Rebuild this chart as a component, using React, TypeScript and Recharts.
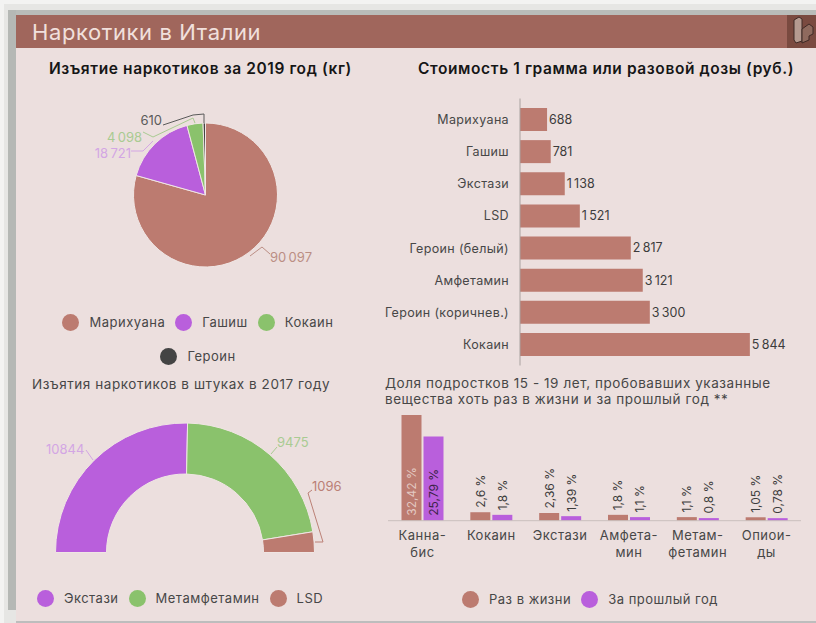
import React from 'react';
import { PieChart, Pie, Cell, BarChart, Bar, XAxis, YAxis, Legend, LabelList } from 'recharts';

const FONT = 'Inter, "Open Sans", sans-serif';
const BROWN = '#bc7b70';
const PURPLE = '#b95fdc';
const GREEN = '#8ac26c';
const DARK = '#444444';
const TEXT = '#474747';

const seizureNames = ['Марихуана', 'Гашиш', 'Кокаин', 'Героин'];
const seizureValues = [90097, 18721, 4098, 610];
const seizureColors = [BROWN, PURPLE, GREEN, DARK];
const seizureLabelColors = ['#bb8e84', '#d3a6e4', '#a9cb92', '#5a5a5a'];

const pieceNames = ['Экстази', 'Метамфетамин', 'LSD'];
const pieceValues = [10844, 9475, 1096];
const pieceColors = [PURPLE, GREEN, BROWN];
const pieceLabelColors = ['#d3a6e4', '#a9cb92', '#bb8076'];

const priceNames = ['Марихуана', 'Гашиш', 'Экстази', 'LSD', 'Героин (белый)', 'Амфетамин', 'Героин (коричнев.)', 'Кокаин'];
const priceValues = [688, 781, 1138, 1521, 2817, 3121, 3300, 5844];

const teenCategories = ['Канна-\nбис', 'Кокаин', 'Экстази', 'Амфета-\nмин', 'Метам-\nфетамин', 'Опиои-\nды'];
const teenEver = [32.42, 2.6, 2.36, 1.8, 1.1, 1.05];
const teenLastYear = [25.79, 1.8, 1.39, 1.1, 0.8, 0.78];

const seizureData = seizureNames.map((name, i) => ({ name, value: seizureValues[i] }));
const pieceData = pieceNames.map((name, i) => ({ name, value: pieceValues[i] }));
const priceData = priceNames.map((name, i) => ({ name, value: priceValues[i] }));
const teenData = teenCategories.map((name, i) => ({ name, ever: teenEver[i], last: teenLastYear[i] }));

const spaced = (v: number) => String(v).replace(/\B(?=(\d{3})+$)/g, '\u2009');
const comma = (v: number) => `${String(v).replace('.', ',')} %`;

const seizureLabelPos = [
  { x: 270, y: 257, anchor: 'start', line: '250,256 262,247 270,254' },
  { x: 131, y: 153, anchor: 'end', line: '131,151 143,151 153,141' },
  { x: 142, y: 137, anchor: 'end', line: '143,132 153,137 193,118 195,123' },
  { x: 162, y: 120, anchor: 'end', line: '163,125 193,115 204,114 204,123' },
];
const pieceLabelPos = [
  { x: 46, y: 449, anchor: 'start', line: '86,450 93,460' },
  { x: 277, y: 442, anchor: 'start', line: '277,447 271,454' },
  { x: 312, y: 486, anchor: 'start', line: '312,490 308,493 323,542 315,542' },
];

const makePieLabel = (pos: any[], colors: string[], fmt: (v: number) => string) => (p: any) => {
  const a = pos[p.index];
  return (
    <g>
      <polyline points={a.line} fill="none" stroke={colors[p.index]} strokeWidth={1} />
      <text x={a.x} y={a.y} textAnchor={a.anchor} dominantBaseline="central" fontSize={13} fontFamily={FONT} fill={colors[p.index]}>
        {fmt(p.value)}
      </text>
    </g>
  );
};

const makeLegend = (rowGap: number, itemGap: number) => (props: any) => (
  <div style={{ display: 'flex', flexWrap: 'wrap', justifyContent: 'center', rowGap, columnGap: itemGap, fontFamily: FONT, fontSize: 13, letterSpacing: 0.5, color: TEXT }}>
    {(props.payload || []).map((e: any) => (
      <div key={e.value} style={{ display: 'flex', alignItems: 'center', height: 18 }}>
        <span style={{ width: 17, height: 17, borderRadius: '50%', background: e.color, marginRight: 10, display: 'inline-block' }} />
        <span>{e.value}</span>
      </div>
    ))}
  </div>
);

const TeenTick = (p: any) => {
  const lines = String(p.payload.value).split('\n');
  return (
    <text textAnchor="middle" fontSize={13} letterSpacing={0.5} fontFamily={FONT} fill={TEXT}>
      {lines.map((l, i) => (
        <tspan key={i} x={p.x} y={135 + i * 16.5} dominantBaseline="central">{l}</tspan>
      ))}
    </text>
  );
};

const rotatedLabel = (insideColor: string) => (p: any) => {
  const cx = p.x + p.width / 2;
  const inside = p.value > 10;
  const y = inside ? p.y + p.height - 5 : p.y - 4.5;
  return (
    <text
      x={cx}
      y={y}
      transform={`rotate(-90 ${cx} ${y})`}
      textAnchor="start"
      dominantBaseline="central"
      fontSize={12}
      fontFamily={FONT}
      fill={inside ? insideColor : '#3c3c3c'}
    >
      {comma(p.value)}
    </text>
  );
};

const abs = (left: number, top: number, extra: any = {}) => ({ position: 'absolute' as const, left, top, ...extra });
const mainTitle = { fontSize: 15.5, lineHeight: '20px', fontWeight: 600, letterSpacing: 0.6, color: '#161616', whiteSpace: 'nowrap' };
const subTitle = { fontSize: 13.5, letterSpacing: 0.56, color: TEXT, whiteSpace: 'nowrap' };

export default function App() {
  return (
    <div style={abs(0, 0, { width: 816, height: 623, overflow: 'hidden', background: '#e6e6e4', fontFamily: FONT })}>
      <div style={abs(0, 0, { width: 816, height: 4, background: '#f3f3f2' })} />
      <div style={abs(0, 0, { width: 4, height: 623, background: '#f3f3f2' })} />
      <div style={abs(8, 10, { width: 808, height: 5, background: '#b9bcb9' })} />
      <div style={abs(8, 10, { width: 8, height: 600, background: '#b5b8b5' })} />
      <div style={abs(16, 15, { width: 800, height: 606, background: '#ecdfde' })} />
      <div style={abs(16, 621, { width: 800, height: 2, background: '#bdbdbd' })} />
      <div style={abs(16, 15, { width: 800, height: 33, background: '#a0665c' })} />
      <div style={abs(787, 15, { width: 29, height: 33, background: '#7a4a40' })} />
      <svg style={abs(787, 15)} width={29} height={33}>
        <path d="M7 5 L12 2 L15 4 L15 26 L9 28 L7 25 Z" fill="#b59a90" stroke="#3f2a26" strokeWidth={1} />
        <path d="M15 14 L22 9 L26 12 L26 19 L22 21 L22 25 L15 28 Z" fill="#8f6a5e" stroke="#3f2a26" strokeWidth={1} />
      </svg>
      <div style={abs(32, 18, { fontSize: 22, lineHeight: '28px', color: '#f1e0dc', letterSpacing: 0.6 })}>Наркотики в Италии</div>

      <div style={abs(49, 59, mainTitle)}>Изъятие наркотиков за 2019 год (кг)</div>
      <div style={abs(418, 59, mainTitle)}>Стоимость 1 грамма или разовой дозы (руб.)</div>
      <div style={abs(32, 375, { ...subTitle, lineHeight: '18px' })}>Изъятия наркотиков в штуках в 2017 году</div>
      <div style={abs(385, 375, { ...subTitle, lineHeight: '16px' })}>
        Доля подростков 15 - 19 лет, пробовавших указанные<br />вещества хоть раз в жизни и за прошлый год **
      </div>

      <div style={abs(0, 0)}>
        <PieChart width={400} height={370} margin={{ top: 0, right: 0, bottom: 0, left: 0 }}>
          <Pie
            data={seizureData}
            dataKey="value"
            nameKey="name"
            cx={205.5}
            cy={195}
            outerRadius={72}
            startAngle={90}
            endAngle={-270}
            stroke="#f0e6e4"
            strokeWidth={1}
            isAnimationActive={false}
            labelLine={false}
            label={makePieLabel(seizureLabelPos, seizureLabelColors, spaced)}
          >
            {seizureColors.map((c) => <Cell key={c} fill={c} />)}
          </Pie>
          <Legend verticalAlign="middle" itemSorter={null} wrapperStyle={{ left: 33, top: 313, width: 330 }} content={makeLegend(16, 10)} />
        </PieChart>
      </div>

      <div style={abs(0, 0)}>
        <PieChart width={400} height={623} margin={{ top: 0, right: 0, bottom: 0, left: 0 }}>
          <Pie
            data={pieceData}
            dataKey="value"
            nameKey="name"
            cx={185}
            cy={552.5}
            innerRadius={78.5}
            outerRadius={129.5}
            startAngle={180}
            endAngle={0}
            stroke="#f0e6e4"
            strokeWidth={1}
            isAnimationActive={false}
            labelLine={false}
            label={makePieLabel(pieceLabelPos, pieceLabelColors, String)}
          >
            {pieceColors.map((c) => <Cell key={c} fill={c} />)}
          </Pie>
          <Legend verticalAlign="middle" itemSorter={null} wrapperStyle={{ left: 5, top: 589, width: 350 }} content={makeLegend(0, 10)} />
        </PieChart>
      </div>

      <div style={abs(376, 80)}>
        <BarChart
          layout="vertical"
          width={440}
          height={295}
          data={priceData}
          margin={{ top: 18.5, right: 60, bottom: 9.5, left: 0 }}
          barCategoryGap={4.5}
        >
          <XAxis type="number" hide domain={[0, 6000]} />
          <YAxis
            type="category"
            dataKey="name"
            width={144}
            interval={0}
            padding={{ top: 5, bottom: 5 }}
            tickLine={false}
            tickMargin={5}
            axisLine={{ stroke: '#a9a2a0', strokeWidth: 1 }}
            tick={{ fontSize: 12.5, fontFamily: FONT, fill: TEXT, letterSpacing: 0.35 }}
          />
          <Bar dataKey="value" fill={BROWN} isAnimationActive={false}>
            <LabelList dataKey="value" position="right" offset={2} formatter={spaced} style={{ fontSize: 12.5, fontFamily: FONT, fill: '#3c3c3c' }} />
          </Bar>
        </BarChart>
      </div>

      <div style={abs(376, 400)}>
        <BarChart
          width={440}
          height={223}
          data={teenData}
          margin={{ top: 15, right: 15, bottom: 0.3, left: 12 }}
          barGap={2}
          barCategoryGap={13.5}
        >
          <XAxis
            dataKey="name"
            interval={0}
            tickLine={false}
            axisLine={{ stroke: '#c9bfbd', strokeWidth: 1 }}
            height={102}
            tick={(p: any) => <TeenTick {...p} />}
          />
          <YAxis hide domain={[0, 32.42]} />
          <Bar dataKey="ever" name="Раз в жизни" fill={BROWN} isAnimationActive={false}>
            <LabelList dataKey="ever" content={rotatedLabel('#e3c9c2')} />
          </Bar>
          <Bar dataKey="last" name="За прошлый год" fill={PURPLE} isAnimationActive={false}>
            <LabelList dataKey="last" content={rotatedLabel('#3b2347')} />
          </Bar>
          <Legend verticalAlign="middle" itemSorter={null} wrapperStyle={{ left: 24, top: 190, width: 380 }} content={makeLegend(0, 10)} />
        </BarChart>
      </div>
    </div>
  );
}
